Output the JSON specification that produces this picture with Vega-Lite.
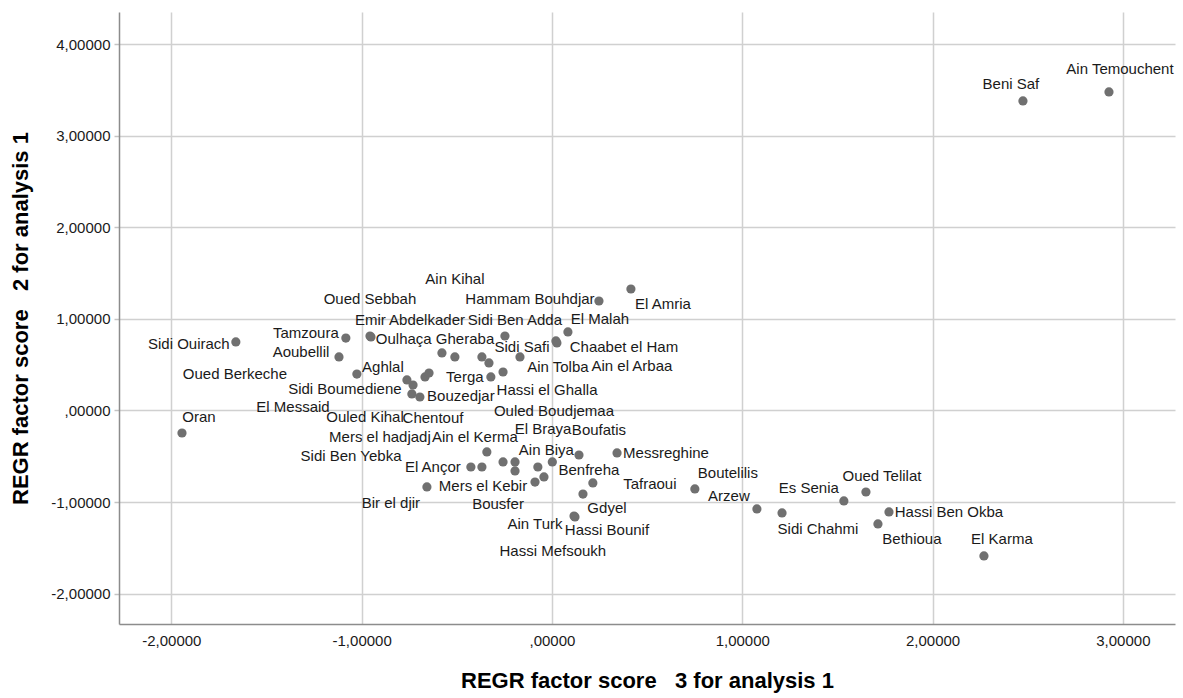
{
"$schema": "https://vega.github.io/schema/vega-lite/v6.json",
"width": 1056, "height": 612,
"autosize": {"type": "none"},
"padding": {"left": 119, "top": 12, "right": 8, "bottom": 74},
"background": "white",
"data": {"values": [
{"name":"Ain Temouchent","f3":2.927,"f2":3.477},
{"name":"Beni Saf","f3":2.475,"f2":3.379},
{"name":"El Amria","f3":0.415,"f2":1.326},
{"name":"Hammam Bouhdjar","f3":0.247,"f2":1.195},
{"name":"El Malah","f3":0.084,"f2":0.857},
{"name":"Chaabet el Ham","f3":0.021,"f2":0.759},
{"name":"Sidi Ben Adda","f3":-0.247,"f2":0.813},
{"name":"Sidi Safi","f3":-0.168,"f2":0.584},
{"name":"Emir Abdelkader","f3":-0.578,"f2":0.628},
{"name":"Ain Kihal","f3":-0.510,"f2":0.584},
{"name":"Ain Tolba","f3":-0.368,"f2":0.584},
{"name":"Ouled Boudjemaa","f3":-0.331,"f2":0.519},
{"name":"Hassi el Ghalla","f3":-0.257,"f2":0.420},
{"name":"Terga","f3":-0.321,"f2":0.366},
{"name":"Sidi Ouirach","f3":-1.661,"f2":0.748},
{"name":"Tamzoura","f3":-1.083,"f2":0.791},
{"name":"Oulhaça Gheraba","f3":-0.956,"f2":0.813},
{"name":"Aoubellil","f3":-1.119,"f2":0.584},
{"name":"Aghlal","f3":-1.025,"f2":0.398},
{"name":"Oued Berkeche","f3":-0.762,"f2":0.333},
{"name":"El Messaid","f3":-0.730,"f2":0.278},
{"name":"Ouled Kihal","f3":-0.667,"f2":0.366},
{"name":"Chentouf","f3":-0.646,"f2":0.409},
{"name":"Sidi Boumediene","f3":-0.736,"f2":0.180},
{"name":"Bouzedjar","f3":-0.694,"f2":0.147},
{"name":"Oran","f3":-1.944,"f2":-0.246},
{"name":"Oued Sebbah","f3":-0.951,"f2":0.802},
{"name":"Ain el Arbaa","f3":0.026,"f2":0.737},
{"name":"Ain el Kerma","f3":-0.342,"f2":-0.453},
{"name":"El Ançor","f3":-0.426,"f2":-0.617},
{"name":"Mers el hadjadj","f3":-0.368,"f2":-0.617},
{"name":"Sidi Ben Yebka","f3":-0.257,"f2":-0.562},
{"name":"El Braya","f3":-0.194,"f2":-0.562},
{"name":"Bousfer","f3":-0.194,"f2":-0.660},
{"name":"Hassi Mefsoukh","f3":-0.074,"f2":-0.617},
{"name":"Benfreha","f3":-0.042,"f2":-0.726},
{"name":"Mers el Kebir","f3":-0.089,"f2":-0.781},
{"name":"Ain Biya","f3":0.002,"f2":-0.562},
{"name":"Boufatis","f3":0.142,"f2":-0.486},
{"name":"Messreghine","f3":0.342,"f2":-0.464},
{"name":"Tafraoui","f3":0.215,"f2":-0.791},
{"name":"Gdyel","f3":0.163,"f2":-0.912},
{"name":"Hassi Bounif","f3":0.121,"f2":-1.163},
{"name":"Ain Turk","f3":0.116,"f2":-1.152},
{"name":"Bir el djir","f3":-0.657,"f2":-0.835},
{"name":"Boutelilis","f3":0.751,"f2":-0.857},
{"name":"Arzew","f3":1.077,"f2":-1.075},
{"name":"Sidi Chahmi","f3":1.209,"f2":-1.119},
{"name":"Es Senia","f3":1.534,"f2":-0.988},
{"name":"Oued Telilat","f3":1.650,"f2":-0.890},
{"name":"Hassi Ben Okba","f3":1.771,"f2":-1.108},
{"name":"Bethioua","f3":1.713,"f2":-1.239},
{"name":"El Karma","f3":2.270,"f2":-1.588}
]},
"encoding": {
"x": {"field":"f3","type":"quantitative","scale":{"domain":[-2.275,3.274],"nice":false,"zero":false},
 "axis":{"values":[-2,-1,0,1,2,3],"labelExpr":"(datum.value < 0 ? '-' : '') + (datum.value == 0 ? '' : abs(datum.value)) + ',00000'",
 "title":"REGR factor score \u00a0 3 for analysis 1","titleY":56,"titleBaseline":"middle","ticks":false,"labelPadding":9}},
"y": {"field":"f2","type":"quantitative","scale":{"domain":[-2.331,4.35],"nice":false,"zero":false},
 "axis":{"values":[-2,-1,0,1,2,3,4],"labelExpr":"(datum.value < 0 ? '-' : '') + (datum.value == 0 ? '' : abs(datum.value)) + ',00000'",
 "title":"REGR factor score \u00a0 2 for analysis 1","titleX":-99,"titleY":306,"titleAngle":-90,"titleBaseline":"middle","titleAlign":"center","ticks":true,"tickSize":5,"labelPadding":4}}
},
"layer": [
{"mark":{"type":"circle","size":85,"color":"#707070","opacity":1}},
{"encoding":{"text":{"field":"name"}},
 "layer":[
 {"transform":[{"filter":{"field":"name","equal":"Ain Temouchent"}}],"mark":{"type":"text","dx":11,"dy":-23}},
 {"transform":[{"filter":{"field":"name","equal":"Beni Saf"}}],"mark":{"type":"text","dx":-12,"dy":-17}},
 {"transform":[{"filter":{"field":"name","equal":"El Amria"}}],"mark":{"type":"text","dx":32,"dy":15}},
 {"transform":[{"filter":{"field":"name","equal":"Hammam Bouhdjar"}}],"mark":{"type":"text","dx":-69,"dy":-2}},
 {"transform":[{"filter":{"field":"name","equal":"El Malah"}}],"mark":{"type":"text","dx":32,"dy":-13}},
 {"transform":[{"filter":{"field":"name","equal":"Chaabet el Ham"}}],"mark":{"type":"text","dx":68,"dy":6}},
 {"transform":[{"filter":{"field":"name","equal":"Sidi Ben Adda"}}],"mark":{"type":"text","dx":10,"dy":-16}},
 {"transform":[{"filter":{"field":"name","equal":"Sidi Safi"}}],"mark":{"type":"text","dx":2,"dy":-10}},
 {"transform":[{"filter":{"field":"name","equal":"Emir Abdelkader"}}],"mark":{"type":"text","dx":-32,"dy":-33}},
 {"transform":[{"filter":{"field":"name","equal":"Ain Kihal"}}],"mark":{"type":"text","dx":0,"dy":-78}},
 {"transform":[{"filter":{"field":"name","equal":"Ain Tolba"}}],"mark":{"type":"text","dx":76,"dy":10}},
 {"transform":[{"filter":{"field":"name","equal":"Ouled Boudjemaa"}}],"mark":{"type":"text","dx":65,"dy":48}},
 {"transform":[{"filter":{"field":"name","equal":"Hassi el Ghalla"}}],"mark":{"type":"text","dx":44,"dy":18}},
 {"transform":[{"filter":{"field":"name","equal":"Terga"}}],"mark":{"type":"text","dx":-26,"dy":0}},
 {"transform":[{"filter":{"field":"name","equal":"Sidi Ouirach"}}],"mark":{"type":"text","dx":-47,"dy":2}},
 {"transform":[{"filter":{"field":"name","equal":"Tamzoura"}}],"mark":{"type":"text","dx":-40,"dy":-5}},
 {"transform":[{"filter":{"field":"name","equal":"Oulhaça Gheraba"}}],"mark":{"type":"text","dx":65,"dy":3}},
 {"transform":[{"filter":{"field":"name","equal":"Aoubellil"}}],"mark":{"type":"text","dx":-38,"dy":-5}},
 {"transform":[{"filter":{"field":"name","equal":"Aghlal"}}],"mark":{"type":"text","dx":26,"dy":-7}},
 {"transform":[{"filter":{"field":"name","equal":"Oued Berkeche"}}],"mark":{"type":"text","dx":-172,"dy":-6}},
 {"transform":[{"filter":{"field":"name","equal":"El Messaid"}}],"mark":{"type":"text","dx":-120,"dy":22}},
 {"transform":[{"filter":{"field":"name","equal":"Ouled Kihal"}}],"mark":{"type":"text","dx":-60,"dy":40}},
 {"transform":[{"filter":{"field":"name","equal":"Chentouf"}}],"mark":{"type":"text","dx":4,"dy":45}},
 {"transform":[{"filter":{"field":"name","equal":"Sidi Boumediene"}}],"mark":{"type":"text","dx":-67,"dy":-5}},
 {"transform":[{"filter":{"field":"name","equal":"Bouzedjar"}}],"mark":{"type":"text","dx":41,"dy":-1}},
 {"transform":[{"filter":{"field":"name","equal":"Oran"}}],"mark":{"type":"text","dx":17,"dy":-16}},
 {"transform":[{"filter":{"field":"name","equal":"Oued Sebbah"}}],"mark":{"type":"text","dx":-1,"dy":-38}},
 {"transform":[{"filter":{"field":"name","equal":"Ain el Arbaa"}}],"mark":{"type":"text","dx":75,"dy":23}},
 {"transform":[{"filter":{"field":"name","equal":"Ain el Kerma"}}],"mark":{"type":"text","dx":-12,"dy":-15}},
 {"transform":[{"filter":{"field":"name","equal":"El Ançor"}}],"mark":{"type":"text","dx":-38,"dy":0}},
 {"transform":[{"filter":{"field":"name","equal":"Mers el hadjadj"}}],"mark":{"type":"text","dx":-102,"dy":-30}},
 {"transform":[{"filter":{"field":"name","equal":"Sidi Ben Yebka"}}],"mark":{"type":"text","dx":-152,"dy":-6}},
 {"transform":[{"filter":{"field":"name","equal":"El Braya"}}],"mark":{"type":"text","dx":28,"dy":-33}},
 {"transform":[{"filter":{"field":"name","equal":"Bousfer"}}],"mark":{"type":"text","dx":-17,"dy":33}},
 {"transform":[{"filter":{"field":"name","equal":"Hassi Mefsoukh"}}],"mark":{"type":"text","dx":15,"dy":84}},
 {"transform":[{"filter":{"field":"name","equal":"Benfreha"}}],"mark":{"type":"text","dx":45,"dy":-7}},
 {"transform":[{"filter":{"field":"name","equal":"Mers el Kebir"}}],"mark":{"type":"text","dx":-52,"dy":4}},
 {"transform":[{"filter":{"field":"name","equal":"Ain Biya"}}],"mark":{"type":"text","dx":-6,"dy":-12}},
 {"transform":[{"filter":{"field":"name","equal":"Boufatis"}}],"mark":{"type":"text","dx":20,"dy":-25}},
 {"transform":[{"filter":{"field":"name","equal":"Messreghine"}}],"mark":{"type":"text","dx":49,"dy":0}},
 {"transform":[{"filter":{"field":"name","equal":"Tafraoui"}}],"mark":{"type":"text","dx":57,"dy":1}},
 {"transform":[{"filter":{"field":"name","equal":"Gdyel"}}],"mark":{"type":"text","dx":24,"dy":14}},
 {"transform":[{"filter":{"field":"name","equal":"Hassi Bounif"}}],"mark":{"type":"text","dx":32,"dy":13}},
 {"transform":[{"filter":{"field":"name","equal":"Ain Turk"}}],"mark":{"type":"text","dx":-39,"dy":8}},
 {"transform":[{"filter":{"field":"name","equal":"Bir el djir"}}],"mark":{"type":"text","dx":-36,"dy":16}},
 {"transform":[{"filter":{"field":"name","equal":"Boutelilis"}}],"mark":{"type":"text","dx":33,"dy":-16}},
 {"transform":[{"filter":{"field":"name","equal":"Arzew"}}],"mark":{"type":"text","dx":-28,"dy":-13}},
 {"transform":[{"filter":{"field":"name","equal":"Sidi Chahmi"}}],"mark":{"type":"text","dx":36,"dy":16}},
 {"transform":[{"filter":{"field":"name","equal":"Es Senia"}}],"mark":{"type":"text","dx":-35,"dy":-13}},
 {"transform":[{"filter":{"field":"name","equal":"Oued Telilat"}}],"mark":{"type":"text","dx":16,"dy":-16}},
 {"transform":[{"filter":{"field":"name","equal":"Hassi Ben Okba"}}],"mark":{"type":"text","dx":60,"dy":0}},
 {"transform":[{"filter":{"field":"name","equal":"Bethioua"}}],"mark":{"type":"text","dx":34,"dy":15}},
 {"transform":[{"filter":{"field":"name","equal":"El Karma"}}],"mark":{"type":"text","dx":18,"dy":-17}}
 ]}
],
"config": {
 "view": {"stroke": null},
 "text": {"font":"Liberation Sans","fontSize":15,"color":"#1a1a1a","align":"center","baseline":"middle"},
 "axis": {"grid":true,"gridColor":"#d0d0d0","gridWidth":1.5,"domainColor":"#8c8c8c","domainWidth":1.5,"tickColor":"#c4c4c4","tickWidth":1.5,
  "labelFont":"Liberation Sans","labelFontSize":15,"labelColor":"#1a1a1a","labelFlush":false,"labelOverlap":false,
  "titleFont":"Liberation Sans","titleFontSize":22,"titleFontWeight":"bold","titleColor":"#000000"}
}
}
